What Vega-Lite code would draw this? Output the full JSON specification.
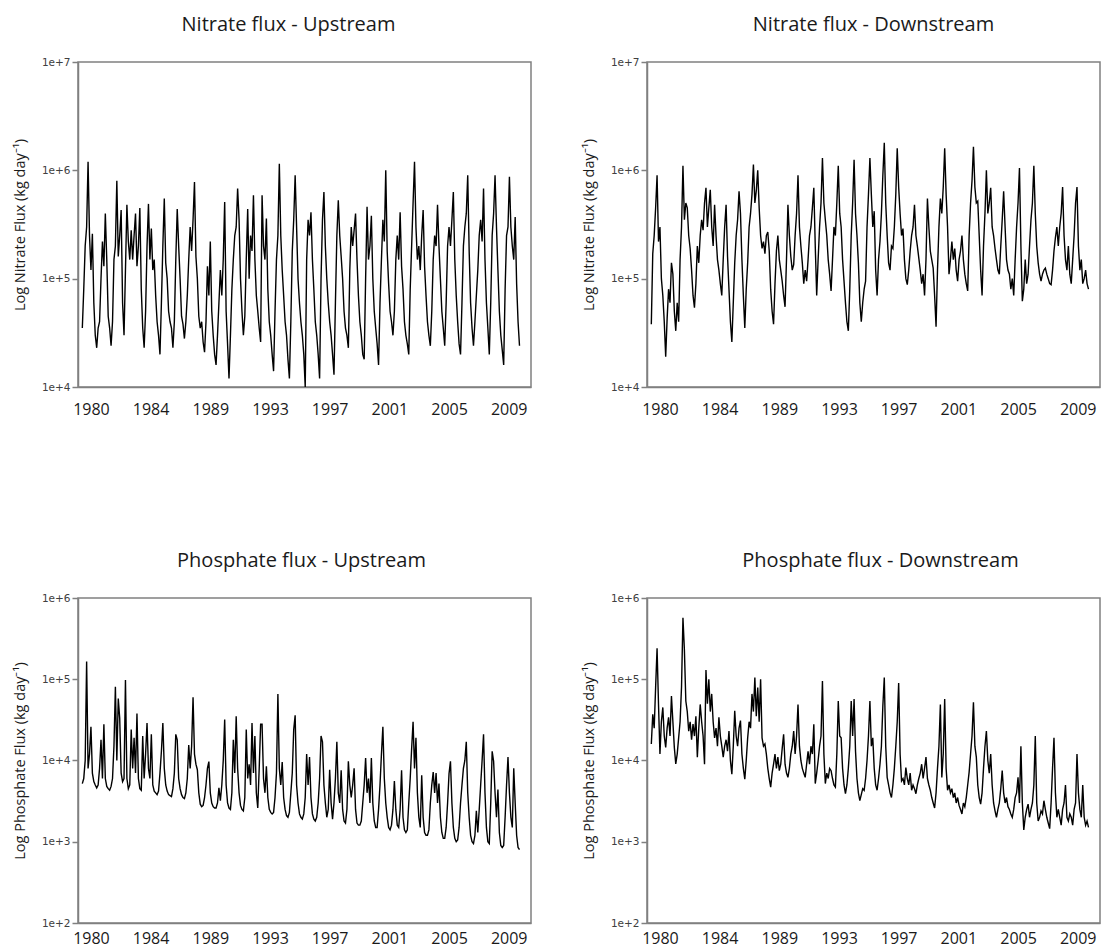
{
"$schema": "https://vega.github.io/schema/vega-lite/v6.json",
"background": "white",
"padding": {"left": 11, "top": 14, "right": 5, "bottom": 0},
"datasets": {"flux": [
{"t":1980.2,"a":3.5e4,"b":3.8e4,"c":5.2e3,"d":1.6e4},
{"t":1980.3,"a":8e4,"b":1.7e5,"c":6e3,"d":3.7e4},
{"t":1980.4,"a":2e5,"b":2.5e5,"c":1e4,"d":2.5e4},
{"t":1980.5,"a":3e5,"b":4.5e5,"c":1.65e5,"d":8e4},
{"t":1980.6,"a":1.2e6,"b":9e5,"c":8e3,"d":2.4e5},
{"t":1980.7,"a":2.5e5,"b":2.2e5,"c":1.2e4,"d":4.9e4},
{"t":1980.8,"a":1.2e5,"b":3e5,"c":2.6e4,"d":1.2e4},
{"t":1980.9,"a":2.6e5,"b":1e5,"c":7e3,"d":3e4},
{"t":1981.0,"a":6e4,"b":7e4,"c":5.5e3,"d":4.5e4},
{"t":1981.1,"a":3e4,"b":4e4,"c":5e3,"d":2e4},
{"t":1981.2,"a":2.3e4,"b":1.9e4,"c":4.6e3,"d":1.45e4},
{"t":1981.3,"a":3.5e4,"b":4.3e4,"c":5e3,"d":2.5e4},
{"t":1981.4,"a":4e4,"b":8e4,"c":8e3,"d":3.4e4},
{"t":1981.5,"a":1e5,"b":6e4,"c":1.8e4,"d":2e4},
{"t":1981.6,"a":2.2e5,"b":1.4e5,"c":6e3,"d":6.2e4},
{"t":1981.7,"a":1.3e5,"b":1.1e5,"c":2.8e4,"d":3e4},
{"t":1981.8,"a":4e5,"b":5e4,"c":6e3,"d":1.45e4},
{"t":1981.9,"a":1.5e5,"b":3.3e4,"c":4.8e3,"d":9.1e3},
{"t":1982.0,"a":4.5e4,"b":6e4,"c":4.5e3,"d":1.2e4},
{"t":1982.1,"a":3.5e4,"b":4e4,"c":4.3e3,"d":1.9e4},
{"t":1982.2,"a":2.4e4,"b":1.5e5,"c":4.8e3,"d":3e4},
{"t":1982.3,"a":4e4,"b":3e5,"c":6e3,"d":8e4},
{"t":1982.4,"a":1.5e5,"b":1.1e6,"c":1.5e4,"d":5.7e5},
{"t":1982.5,"a":2e5,"b":3.5e5,"c":8.1e4,"d":2.3e5},
{"t":1982.6,"a":8e5,"b":5e5,"c":1e4,"d":5.4e4},
{"t":1982.7,"a":1.6e5,"b":4.5e5,"c":5.8e4,"d":4e4},
{"t":1982.8,"a":2.5e5,"b":2.5e5,"c":3.3e4,"d":2.3e4},
{"t":1982.9,"a":4.3e5,"b":1.9e5,"c":7e3,"d":3e4},
{"t":1983.0,"a":6e4,"b":1.2e5,"c":5.5e3,"d":1.8e4},
{"t":1983.1,"a":3e4,"b":7e4,"c":6e3,"d":2.8e4},
{"t":1983.2,"a":1.2e5,"b":5.4e4,"c":9.8e4,"d":2e4},
{"t":1983.3,"a":4.8e5,"b":9e4,"c":6e3,"d":3.5e4},
{"t":1983.4,"a":2.2e5,"b":2e5,"c":4.5e3,"d":1.1e4},
{"t":1983.5,"a":1.5e5,"b":1.4e5,"c":5e3,"d":2.5e4},
{"t":1983.6,"a":2.8e5,"b":2.5e5,"c":2.4e4,"d":4.9e4},
{"t":1983.7,"a":1.5e5,"b":3.5e5,"c":8e3,"d":3e4},
{"t":1983.8,"a":2.5e5,"b":2.8e5,"c":1.9e4,"d":2e4},
{"t":1983.9,"a":4e5,"b":5e5,"c":7e3,"d":9e3},
{"t":1984.0,"a":1.3e5,"b":6.9e5,"c":3.8e4,"d":1.3e5},
{"t":1984.1,"a":2e5,"b":3e5,"c":6e3,"d":5e4},
{"t":1984.2,"a":4.5e5,"b":4.5e5,"c":4.5e3,"d":1e5},
{"t":1984.3,"a":8e4,"b":6.6e5,"c":4.3e3,"d":4e4},
{"t":1984.4,"a":3.5e4,"b":3e5,"c":2e4,"d":6.6e4},
{"t":1984.5,"a":2.3e4,"b":2e5,"c":6e3,"d":3e4},
{"t":1984.6,"a":5e4,"b":4.8e5,"c":1.2e4,"d":1.9e4},
{"t":1984.7,"a":2e5,"b":2.5e5,"c":2.9e4,"d":2.5e4},
{"t":1984.8,"a":4.9e5,"b":1.5e5,"c":8e3,"d":1.5e4},
{"t":1984.9,"a":1.5e5,"b":1.2e5,"c":6e3,"d":3.4e4},
{"t":1985.0,"a":2.9e5,"b":9e4,"c":2.1e4,"d":2e4},
{"t":1985.1,"a":1.2e5,"b":7e4,"c":5e3,"d":1.5e4},
{"t":1985.2,"a":1.5e5,"b":1.5e5,"c":4.2e3,"d":1.1e4},
{"t":1985.3,"a":7e4,"b":3e5,"c":4e3,"d":1.5e4},
{"t":1985.4,"a":4e4,"b":4.8e5,"c":3.8e3,"d":1.8e4},
{"t":1985.5,"a":3e4,"b":1.6e5,"c":4.2e3,"d":1.3e4},
{"t":1985.6,"a":2e4,"b":8e4,"c":7e3,"d":2.3e4},
{"t":1985.7,"a":6e4,"b":4e4,"c":1.3e4,"d":1e4},
{"t":1985.8,"a":2e5,"b":2.6e4,"c":2.9e4,"d":6.8e3},
{"t":1985.9,"a":5.5e5,"b":6e4,"c":8e3,"d":1.5e4},
{"t":1986.0,"a":1.4e5,"b":1.4e5,"c":5e3,"d":4.1e4},
{"t":1986.1,"a":1e5,"b":2.5e5,"c":4.2e3,"d":2e4},
{"t":1986.2,"a":5e4,"b":3.5e5,"c":3.8e3,"d":1.5e4},
{"t":1986.3,"a":4e4,"b":6.4e5,"c":3.7e3,"d":2.5e4},
{"t":1986.4,"a":3.5e4,"b":4e5,"c":3.6e3,"d":3.1e4},
{"t":1986.5,"a":2.3e4,"b":1.5e5,"c":4.5e3,"d":1.2e4},
{"t":1986.6,"a":4e4,"b":7e4,"c":7e3,"d":8e3},
{"t":1986.7,"a":1.5e5,"b":3.5e4,"c":2.1e4,"d":5.9e3},
{"t":1986.8,"a":4.4e5,"b":8e4,"c":1.8e4,"d":1e4},
{"t":1986.9,"a":2e5,"b":1.4e5,"c":6e3,"d":1.9e4},
{"t":1987.0,"a":1e5,"b":3e5,"c":4.5e3,"d":3e4},
{"t":1987.1,"a":4.5e4,"b":4e5,"c":3.8e3,"d":2.5e4},
{"t":1987.2,"a":3.8e4,"b":6e5,"c":3.5e3,"d":6.6e4},
{"t":1987.3,"a":2.8e4,"b":1.13e6,"c":3.4e3,"d":4e4},
{"t":1987.4,"a":4e4,"b":5e5,"c":4e3,"d":1.05e5},
{"t":1987.5,"a":7e4,"b":6.5e5,"c":6e3,"d":3.5e4},
{"t":1987.6,"a":1.5e5,"b":1e6,"c":1.55e4,"d":7.9e4},
{"t":1987.7,"a":3e5,"b":4.5e5,"c":8e3,"d":3e4},
{"t":1987.8,"a":1.8e5,"b":2.5e5,"c":1.5e4,"d":1e5},
{"t":1987.9,"a":3.5e5,"b":1.9e5,"c":6e4,"d":1.9e4},
{"t":1988.0,"a":7.8e5,"b":2.2e5,"c":1.2e4,"d":1.5e4},
{"t":1988.1,"a":1.6e5,"b":1.7e5,"c":9e3,"d":1.6e4},
{"t":1988.2,"a":1e5,"b":2.5e5,"c":7.7e3,"d":1.2e4},
{"t":1988.3,"a":4.5e4,"b":2.7e5,"c":4e3,"d":8e3},
{"t":1988.4,"a":3.5e4,"b":1.8e5,"c":2.9e3,"d":6e3},
{"t":1988.5,"a":4e4,"b":8e4,"c":2.7e3,"d":4.7e3},
{"t":1988.6,"a":2.6e4,"b":5e4,"c":2.8e3,"d":7e3},
{"t":1988.7,"a":2.1e4,"b":3.8e4,"c":3.5e3,"d":9e3},
{"t":1988.8,"a":4e4,"b":9e4,"c":5e3,"d":1.2e4},
{"t":1988.9,"a":1.3e5,"b":1.8e5,"c":8e3,"d":8e3},
{"t":1989.0,"a":7e4,"b":2.5e5,"c":9.7e3,"d":1.1e4},
{"t":1989.1,"a":2.2e5,"b":1.5e5,"c":4e3,"d":7.5e3},
{"t":1989.2,"a":5e4,"b":1.2e5,"c":3e3,"d":9e3},
{"t":1989.3,"a":3e4,"b":9.5e4,"c":2.7e3,"d":1.4e4},
{"t":1989.4,"a":2e4,"b":7e4,"c":2.6e3,"d":2.1e4},
{"t":1989.5,"a":1.6e4,"b":5.5e4,"c":2.6e3,"d":9e3},
{"t":1989.6,"a":3e4,"b":1.5e5,"c":3e3,"d":7e3},
{"t":1989.7,"a":6e4,"b":4.8e5,"c":4.6e3,"d":6.2e3},
{"t":1989.8,"a":1.2e5,"b":2.5e5,"c":3.2e3,"d":8e3},
{"t":1989.9,"a":7e4,"b":1.6e5,"c":5e3,"d":1.2e4},
{"t":1990.0,"a":1.5e5,"b":1.2e5,"c":1e4,"d":1.5e4},
{"t":1990.1,"a":5.1e5,"b":1.35e5,"c":3.2e4,"d":2.3e4},
{"t":1990.2,"a":5e4,"b":2.5e5,"c":5e3,"d":1.2e4},
{"t":1990.3,"a":2.5e4,"b":4e5,"c":3e3,"d":2e4},
{"t":1990.4,"a":1.2e4,"b":9e5,"c":2.6e3,"d":4.9e4},
{"t":1990.5,"a":3e4,"b":3e5,"c":2.5e3,"d":1.5e4},
{"t":1990.6,"a":8e4,"b":2e5,"c":4e3,"d":1e4},
{"t":1990.7,"a":1.5e5,"b":1.4e5,"c":1.8e4,"d":8e3},
{"t":1990.8,"a":2.5e5,"b":9e4,"c":7e3,"d":7e3},
{"t":1990.9,"a":3e5,"b":1.2e5,"c":3.5e4,"d":6.2e3},
{"t":1991.0,"a":6.8e5,"b":9.5e4,"c":8e3,"d":9e3},
{"t":1991.1,"a":3.5e5,"b":1.5e5,"c":4e3,"d":1.3e4},
{"t":1991.2,"a":1e5,"b":2.5e5,"c":2.8e3,"d":9e3},
{"t":1991.3,"a":5e4,"b":3e5,"c":2.5e3,"d":1.5e4},
{"t":1991.4,"a":3e4,"b":4.5e5,"c":2.4e3,"d":1.2e4},
{"t":1991.5,"a":4.5e4,"b":6.9e5,"c":3.5e3,"d":2.8e4},
{"t":1991.6,"a":1.5e5,"b":2e5,"c":2.4e4,"d":5.2e3},
{"t":1991.7,"a":4.4e5,"b":7e4,"c":6e3,"d":7e3},
{"t":1991.8,"a":1e5,"b":1.5e5,"c":9e3,"d":1e4},
{"t":1991.9,"a":2.5e5,"b":3e5,"c":5e3,"d":1.5e4},
{"t":1992.0,"a":1.8e5,"b":5e5,"c":2.9e4,"d":2e4},
{"t":1992.1,"a":5.9e5,"b":1.3e6,"c":7e3,"d":9.5e4},
{"t":1992.2,"a":1.5e5,"b":5e5,"c":2e4,"d":1.2e4},
{"t":1992.3,"a":7e4,"b":3.5e5,"c":4e3,"d":5.2e3},
{"t":1992.4,"a":5e4,"b":2.5e5,"c":2.6e3,"d":7e3},
{"t":1992.5,"a":3.5e4,"b":1.5e5,"c":8e3,"d":6e3},
{"t":1992.6,"a":2.6e4,"b":1.1e5,"c":2.8e4,"d":8e3},
{"t":1992.7,"a":5.9e5,"b":7.7e4,"c":2.8e4,"d":7.5e3},
{"t":1992.8,"a":2e5,"b":1.5e5,"c":6e3,"d":6e3},
{"t":1992.9,"a":1.5e5,"b":3e5,"c":4e3,"d":5e3},
{"t":1993.0,"a":3.6e5,"b":2.5e5,"c":8.5e3,"d":4.7e3},
{"t":1993.1,"a":8e4,"b":5e5,"c":3.5e3,"d":1.2e4},
{"t":1993.2,"a":4e4,"b":1.1e6,"c":2.5e3,"d":5.4e4},
{"t":1993.3,"a":3e4,"b":4e5,"c":2.3e3,"d":2e4},
{"t":1993.4,"a":2e4,"b":3e5,"c":2.2e3,"d":1.9e4},
{"t":1993.5,"a":1.4e4,"b":1.5e5,"c":2.3e3,"d":8e3},
{"t":1993.6,"a":5e4,"b":9.5e4,"c":3.5e3,"d":5e3},
{"t":1993.7,"a":1.5e5,"b":6e4,"c":7e3,"d":3.9e3},
{"t":1993.8,"a":2.5e5,"b":4e4,"c":6.6e4,"d":5e3},
{"t":1993.9,"a":1.15e6,"b":3.3e4,"c":8e3,"d":8e3},
{"t":1994.0,"a":2.5e5,"b":8e4,"c":5e3,"d":1.5e4},
{"t":1994.1,"a":1.2e5,"b":2.5e5,"c":9.6e3,"d":5.4e4},
{"t":1994.2,"a":7e4,"b":5e5,"c":3.5e3,"d":2e4},
{"t":1994.3,"a":4e4,"b":1.25e6,"c":2.5e3,"d":5.7e4},
{"t":1994.4,"a":3e4,"b":4e5,"c":2.1e3,"d":1.3e4},
{"t":1994.5,"a":1.8e4,"b":2.5e5,"c":2e3,"d":6e3},
{"t":1994.6,"a":1.2e4,"b":1.4e5,"c":2.3e3,"d":4e3},
{"t":1994.7,"a":4e4,"b":6e4,"c":4e3,"d":3.2e3},
{"t":1994.8,"a":1.8e5,"b":4e4,"c":7e3,"d":3.8e3},
{"t":1994.9,"a":3.5e5,"b":6e4,"c":2.4e4,"d":4.5e3},
{"t":1995.0,"a":9e5,"b":8e4,"c":3.6e4,"d":4.3e3},
{"t":1995.1,"a":3e5,"b":9.5e4,"c":5e3,"d":6e3},
{"t":1995.2,"a":1e5,"b":3e5,"c":3e3,"d":1e4},
{"t":1995.3,"a":6e4,"b":6e5,"c":2.2e3,"d":2e4},
{"t":1995.4,"a":4e4,"b":1.3e6,"c":2e3,"d":5.4e4},
{"t":1995.5,"a":3e4,"b":6e5,"c":1.9e3,"d":1.5e4},
{"t":1995.6,"a":2e4,"b":3e5,"c":2.2e3,"d":1.9e4},
{"t":1995.7,"a":1e4,"b":4.2e5,"c":3.5e3,"d":8e3},
{"t":1995.8,"a":1.5e5,"b":1.2e5,"c":1.2e4,"d":5e3},
{"t":1995.9,"a":3.5e5,"b":7e4,"c":5e3,"d":4.3e3},
{"t":1996.0,"a":2.5e5,"b":1.5e5,"c":1.1e4,"d":6e3},
{"t":1996.1,"a":4.1e5,"b":2.2e5,"c":3.5e3,"d":9e3},
{"t":1996.2,"a":1.5e5,"b":4e5,"c":2.2e3,"d":1.5e4},
{"t":1996.3,"a":8e4,"b":9e5,"c":1.9e3,"d":4.7e4},
{"t":1996.4,"a":4e4,"b":1.8e6,"c":1.8e3,"d":1.05e5},
{"t":1996.5,"a":3e4,"b":5e5,"c":2e3,"d":1.5e4},
{"t":1996.6,"a":2e4,"b":2.5e5,"c":3e3,"d":6.2e3},
{"t":1996.7,"a":1.2e4,"b":1.4e5,"c":6e3,"d":5e3},
{"t":1996.8,"a":1e5,"b":1.2e5,"c":2e4,"d":4e3},
{"t":1996.9,"a":3.5e5,"b":2e5,"c":1.7e4,"d":3.5e3},
{"t":1997.0,"a":6.3e5,"b":1.9e5,"c":5e3,"d":5e3},
{"t":1997.1,"a":2e5,"b":3e5,"c":3e3,"d":8e3},
{"t":1997.2,"a":1e5,"b":6e5,"c":2e3,"d":1.5e4},
{"t":1997.3,"a":6e4,"b":1.6e6,"c":2.5e3,"d":3e4},
{"t":1997.4,"a":4e4,"b":7e5,"c":7.7e3,"d":9e4},
{"t":1997.5,"a":3e4,"b":4e5,"c":3e3,"d":1.2e4},
{"t":1997.6,"a":2e4,"b":2.5e5,"c":1.9e3,"d":5.6e3},
{"t":1997.7,"a":1.3e4,"b":2.9e5,"c":3e3,"d":6e3},
{"t":1997.8,"a":6e4,"b":1.5e5,"c":6e3,"d":5e3},
{"t":1997.9,"a":2.5e5,"b":1e5,"c":1.7e4,"d":8.2e3},
{"t":1998.0,"a":5.3e5,"b":8.8e4,"c":4e3,"d":6e3},
{"t":1998.1,"a":2.5e5,"b":1.2e5,"c":3e3,"d":5e3},
{"t":1998.2,"a":1.6e5,"b":1.8e5,"c":7.6e3,"d":7e3},
{"t":1998.3,"a":1e5,"b":2.5e5,"c":2.5e3,"d":4.3e3},
{"t":1998.4,"a":5e4,"b":3e5,"c":1.8e3,"d":5e3},
{"t":1998.5,"a":3.5e4,"b":4.8e5,"c":1.7e3,"d":4.5e3},
{"t":1998.6,"a":3e4,"b":2.5e5,"c":2.5e3,"d":3.9e3},
{"t":1998.7,"a":2.3e4,"b":2e5,"c":9.8e3,"d":5e3},
{"t":1998.8,"a":1.2e5,"b":1.55e5,"c":5e3,"d":6e3},
{"t":1998.9,"a":3e5,"b":1.2e5,"c":3.5e3,"d":7e3},
{"t":1999.0,"a":2e5,"b":9e4,"c":5e3,"d":9e3},
{"t":1999.1,"a":2.8e5,"b":1.1e5,"c":8e3,"d":6e3},
{"t":1999.2,"a":4e5,"b":7e4,"c":2.5e3,"d":8e3},
{"t":1999.3,"a":1.5e5,"b":1.5e5,"c":1.7e3,"d":1.1e4},
{"t":1999.4,"a":7e4,"b":5.5e5,"c":1.6e3,"d":6e3},
{"t":1999.5,"a":4e4,"b":3e5,"c":1.6e3,"d":5e3},
{"t":1999.6,"a":3e4,"b":1.8e5,"c":1.8e3,"d":4.3e3},
{"t":1999.7,"a":2e4,"b":1.5e5,"c":3e3,"d":3.5e3},
{"t":1999.8,"a":1.8e4,"b":1.25e5,"c":5e3,"d":3e3},
{"t":1999.9,"a":1e5,"b":7e4,"c":1.07e4,"d":2.6e3},
{"t":2000.0,"a":4.6e5,"b":3.6e4,"c":4e3,"d":4e3},
{"t":2000.1,"a":1.5e5,"b":1.2e5,"c":6e3,"d":8e3},
{"t":2000.2,"a":2e5,"b":3e5,"c":3e3,"d":1.5e4},
{"t":2000.3,"a":3.8e5,"b":5.5e5,"c":1.07e4,"d":4.9e4},
{"t":2000.4,"a":1e5,"b":4e5,"c":3e3,"d":6.2e3},
{"t":2000.5,"a":5e4,"b":7e5,"c":1.8e3,"d":1.2e4},
{"t":2000.6,"a":3.5e4,"b":1.6e6,"c":1.5e3,"d":5.7e4},
{"t":2000.7,"a":2.5e4,"b":6e5,"c":1.5e3,"d":8e3},
{"t":2000.8,"a":1.6e4,"b":3e5,"c":2.5e3,"d":4.3e3},
{"t":2000.9,"a":6e4,"b":1.1e5,"c":5e3,"d":5e3},
{"t":2001.0,"a":1.5e5,"b":1.5e5,"c":1.2e4,"d":4e3},
{"t":2001.1,"a":3.5e5,"b":2.2e5,"c":2.6e4,"d":4.5e3},
{"t":2001.2,"a":2.2e5,"b":1.5e5,"c":6e3,"d":3.5e3},
{"t":2001.3,"a":1e6,"b":1.9e5,"c":3e3,"d":4e3},
{"t":2001.4,"a":1.8e5,"b":1.2e5,"c":2e3,"d":3e3},
{"t":2001.5,"a":9e4,"b":9.5e4,"c":1.5e3,"d":3.5e3},
{"t":2001.6,"a":5e4,"b":1.5e5,"c":1.4e3,"d":2.8e3},
{"t":2001.7,"a":4e4,"b":1.8e5,"c":1.6e3,"d":2.5e3},
{"t":2001.8,"a":3e4,"b":2.5e5,"c":2.5e3,"d":2.2e3},
{"t":2001.9,"a":5e4,"b":1.5e5,"c":5.6e3,"d":3e3},
{"t":2002.0,"a":1.5e5,"b":1.1e5,"c":2.5e3,"d":2.7e3},
{"t":2002.1,"a":2.5e5,"b":9e4,"c":1.6e3,"d":3.5e3},
{"t":2002.2,"a":1.5e5,"b":7.7e4,"c":1.5e3,"d":5e3},
{"t":2002.3,"a":4.1e5,"b":2.5e5,"c":2.5e3,"d":7.2e3},
{"t":2002.4,"a":1.3e5,"b":5e5,"c":7.6e3,"d":1.2e4},
{"t":2002.5,"a":8e4,"b":8e5,"c":2e3,"d":2e4},
{"t":2002.6,"a":4e4,"b":1.65e6,"c":1.4e3,"d":5.2e4},
{"t":2002.7,"a":3e4,"b":7e5,"c":1.3e3,"d":1.5e4},
{"t":2002.8,"a":2.5e4,"b":5e5,"c":1.4e3,"d":1.1e4},
{"t":2002.9,"a":2e4,"b":5.2e5,"c":3e3,"d":5e3},
{"t":2003.0,"a":8e4,"b":2.5e5,"c":6e3,"d":3.5e3},
{"t":2003.1,"a":2e5,"b":1.2e5,"c":1.4e4,"d":2.9e3},
{"t":2003.2,"a":5e5,"b":7e4,"c":3e4,"d":4e3},
{"t":2003.3,"a":1.2e6,"b":2e5,"c":8e3,"d":8e3},
{"t":2003.4,"a":3e5,"b":4e5,"c":1.9e4,"d":1.5e4},
{"t":2003.5,"a":1.5e5,"b":1e6,"c":4e3,"d":2.3e4},
{"t":2003.6,"a":2e5,"b":4e5,"c":2e3,"d":1e4},
{"t":2003.7,"a":1.2e5,"b":5e5,"c":1.5e3,"d":7e3},
{"t":2003.8,"a":2.5e5,"b":6.9e5,"c":6.6e3,"d":1.2e4},
{"t":2003.9,"a":4.3e5,"b":3e5,"c":2e3,"d":5e3},
{"t":2004.0,"a":1.3e5,"b":2.5e5,"c":1.3e3,"d":3e3},
{"t":2004.1,"a":7e4,"b":1.9e5,"c":1.2e3,"d":2.4e3},
{"t":2004.2,"a":4e4,"b":1.5e5,"c":1.2e3,"d":2e3},
{"t":2004.3,"a":3e4,"b":1.2e5,"c":1.4e3,"d":2.5e3},
{"t":2004.4,"a":2.4e4,"b":1.1e5,"c":3e3,"d":3e3},
{"t":2004.5,"a":5e4,"b":2e5,"c":5e3,"d":4.5e3},
{"t":2004.6,"a":1.5e5,"b":3.5e5,"c":7.2e3,"d":7.5e3},
{"t":2004.7,"a":2.5e5,"b":6.4e5,"c":4e3,"d":4e3},
{"t":2004.8,"a":2e5,"b":3e5,"c":7e3,"d":3e3},
{"t":2004.9,"a":4.8e5,"b":1.5e5,"c":3e3,"d":3.5e3},
{"t":2005.0,"a":2e5,"b":1.2e5,"c":5.2e3,"d":2.7e3},
{"t":2005.1,"a":1e5,"b":1.1e5,"c":2e3,"d":2.5e3},
{"t":2005.2,"a":5e4,"b":8e4,"c":1.3e3,"d":2.2e3},
{"t":2005.3,"a":3.5e4,"b":1e5,"c":1.1e3,"d":2e3},
{"t":2005.4,"a":2.4e4,"b":7e4,"c":1.1e3,"d":2.5e3},
{"t":2005.5,"a":6e4,"b":1.5e5,"c":1.5e3,"d":3.5e3},
{"t":2005.6,"a":2e5,"b":3e5,"c":3e3,"d":4e3},
{"t":2005.7,"a":3e5,"b":5e5,"c":6.9e3,"d":6.2e3},
{"t":2005.8,"a":2e5,"b":1.05e6,"c":9.8e3,"d":3e3},
{"t":2005.9,"a":3.5e5,"b":2e5,"c":3e3,"d":1.5e4},
{"t":2006.0,"a":6.3e5,"b":6.2e4,"c":1.5e3,"d":3e3},
{"t":2006.1,"a":1.5e5,"b":8e4,"c":1.1e3,"d":1.4e3},
{"t":2006.2,"a":7e4,"b":1.5e5,"c":1e3,"d":2e3},
{"t":2006.3,"a":4e4,"b":9e4,"c":1.05e3,"d":2.5e3},
{"t":2006.4,"a":2.5e4,"b":1.1e5,"c":1.5e3,"d":2.9e3},
{"t":2006.5,"a":2e4,"b":2e5,"c":3e3,"d":2e3},
{"t":2006.6,"a":6e4,"b":3.5e5,"c":5e3,"d":2.5e3},
{"t":2006.7,"a":2e5,"b":5e5,"c":8e3,"d":3e3},
{"t":2006.8,"a":3e5,"b":1.1e6,"c":1e4,"d":5e3},
{"t":2006.9,"a":4e5,"b":4e5,"c":1.7e4,"d":2e4},
{"t":2007.0,"a":9e5,"b":2e5,"c":4e3,"d":3e3},
{"t":2007.1,"a":1.8e5,"b":1.4e5,"c":2e3,"d":1.8e3},
{"t":2007.2,"a":6e4,"b":1.1e5,"c":1.2e3,"d":2e3},
{"t":2007.3,"a":3.5e4,"b":9.5e4,"c":1e3,"d":2.4e3},
{"t":2007.4,"a":2.4e4,"b":1.1e5,"c":9.5e2,"d":2.2e3},
{"t":2007.5,"a":4e4,"b":1.2e5,"c":1.2e3,"d":3.2e3},
{"t":2007.6,"a":7e4,"b":1.25e5,"c":2.4e3,"d":2.5e3},
{"t":2007.7,"a":1.2e5,"b":1.1e5,"c":1.3e3,"d":2e3},
{"t":2007.8,"a":2.5e5,"b":1e5,"c":2.5e3,"d":1.7e3},
{"t":2007.9,"a":3.5e5,"b":9e4,"c":5e3,"d":1.45e3},
{"t":2008.0,"a":2.2e5,"b":8.8e4,"c":1e4,"d":3e3},
{"t":2008.1,"a":6.8e5,"b":1.2e5,"c":2.1e4,"d":8e3},
{"t":2008.2,"a":1.5e5,"b":1.8e5,"c":4e3,"d":1.9e4},
{"t":2008.3,"a":6e4,"b":2.4e5,"c":1.5e3,"d":4e3},
{"t":2008.4,"a":3.5e4,"b":3e5,"c":1e3,"d":2e3},
{"t":2008.5,"a":2e4,"b":2e5,"c":9.5e2,"d":2.5e3},
{"t":2008.6,"a":6e4,"b":3e5,"c":3e3,"d":2e3},
{"t":2008.7,"a":2.5e5,"b":4e5,"c":1.3e4,"d":1.6e3},
{"t":2008.8,"a":4e5,"b":7e5,"c":9.8e3,"d":2.5e3},
{"t":2008.9,"a":9e5,"b":2.5e5,"c":4e3,"d":3e3},
{"t":2009.0,"a":3e5,"b":1.5e5,"c":2e3,"d":5e3},
{"t":2009.1,"a":1.2e5,"b":1.2e5,"c":4.4e3,"d":2e3},
{"t":2009.2,"a":5e4,"b":2e5,"c":1.3e3,"d":1.8e3},
{"t":2009.3,"a":3e4,"b":1.1e5,"c":9e2,"d":2.2e3},
{"t":2009.4,"a":2.2e4,"b":9e4,"c":8.5e2,"d":2e3},
{"t":2009.5,"a":1.6e4,"b":1.5e5,"c":9e2,"d":1.6e3},
{"t":2009.6,"a":8e4,"b":2.5e5,"c":2e3,"d":2.5e3},
{"t":2009.7,"a":2.5e5,"b":5e5,"c":5e3,"d":3e3},
{"t":2009.8,"a":3e5,"b":7e5,"c":1.1e4,"d":1.2e4},
{"t":2009.9,"a":8.7e5,"b":2e5,"c":4e3,"d":4e3},
{"t":2010.0,"a":3e5,"b":1.2e5,"c":2e3,"d":2.5e3},
{"t":2010.1,"a":2e5,"b":1.5e5,"c":1.5e3,"d":2e3},
{"t":2010.2,"a":1.5e5,"b":9e4,"c":8e3,"d":5e3},
{"t":2010.3,"a":3.7e5,"b":1e5,"c":3e3,"d":2e3},
{"t":2010.4,"a":9e4,"b":1.2e5,"c":1.2e3,"d":1.6e3},
{"t":2010.5,"a":4e4,"b":9e4,"c":8.5e2,"d":1.8e3},
{"t":2010.6,"a":2.4e4,"b":8e4,"c":8e2,"d":1.5e3}
]},
"vconcat": [
{"hconcat": [
{"title": {"text": "Nitrate flux - Upstream", "dx": -16},
 "width": 453, "height": 325, "data": {"name": "flux"},
 "mark": {"type": "line", "color": "black", "strokeWidth": 1.4, "clip": true},
 "encoding": {
  "x": {"field": "t", "type": "quantitative", "scale": {"domain": [1979.9, 2011.4], "nice": false, "zero": false}, "axis": {"values": [1980.8, 1984.95, 1989.1, 1993.25, 1997.4, 2001.55, 2005.7, 2009.85], "labelExpr": "'' + floor(datum.value)", "title": null, "labelPadding": 14}},
  "y": {"field": "a", "type": "quantitative", "scale": {"type": "log", "domain": [1e4, 1e7], "nice": false}, "axis": {"values": [1e4, 1e5, 1e6, 1e7], "labelExpr": "format(datum.value, '.0e')", "title": "Log Nitrate Flux (kg day⁻¹)"}}
 }},
{"title": {"text": "Nitrate flux - Downstream", "dx": 0},
 "width": 453, "height": 325, "data": {"name": "flux"},
 "mark": {"type": "line", "color": "black", "strokeWidth": 1.4, "clip": true},
 "encoding": {
  "x": {"field": "t", "type": "quantitative", "scale": {"domain": [1979.9, 2011.4], "nice": false, "zero": false}, "axis": {"values": [1980.8, 1984.95, 1989.1, 1993.25, 1997.4, 2001.55, 2005.7, 2009.85], "labelExpr": "'' + floor(datum.value)", "title": null, "labelPadding": 14}},
  "y": {"field": "b", "type": "quantitative", "scale": {"type": "log", "domain": [1e4, 1e7], "nice": false}, "axis": {"values": [1e4, 1e5, 1e6, 1e7], "labelExpr": "format(datum.value, '.0e')", "title": "Log Nitrate Flux (kg day⁻¹)"}}
 }}
], "spacing": 48},
{"hconcat": [
{"title": {"text": "Phosphate flux - Upstream", "dx": -3},
 "width": 453, "height": 325, "data": {"name": "flux"},
 "mark": {"type": "line", "color": "black", "strokeWidth": 1.4, "clip": true},
 "encoding": {
  "x": {"field": "t", "type": "quantitative", "scale": {"domain": [1979.9, 2011.4], "nice": false, "zero": false}, "axis": {"values": [1980.8, 1984.95, 1989.1, 1993.25, 1997.4, 2001.55, 2005.7, 2009.85], "labelExpr": "'' + floor(datum.value)", "title": null, "labelPadding": 7}},
  "y": {"field": "c", "type": "quantitative", "scale": {"type": "log", "domain": [1e2, 1e6], "nice": false}, "axis": {"values": [1e2, 1e3, 1e4, 1e5, 1e6], "labelExpr": "format(datum.value, '.0e')", "title": "Log Phosphate Flux (kg day⁻¹)"}}
 }},
{"title": {"text": "Phosphate flux - Downstream", "dx": 7},
 "width": 453, "height": 325, "data": {"name": "flux"},
 "mark": {"type": "line", "color": "black", "strokeWidth": 1.4, "clip": true},
 "encoding": {
  "x": {"field": "t", "type": "quantitative", "scale": {"domain": [1979.9, 2011.4], "nice": false, "zero": false}, "axis": {"values": [1980.8, 1984.95, 1989.1, 1993.25, 1997.4, 2001.55, 2005.7, 2009.85], "labelExpr": "'' + floor(datum.value)", "title": null, "labelPadding": 7}},
  "y": {"field": "d", "type": "quantitative", "scale": {"type": "log", "domain": [1e2, 1e6], "nice": false}, "axis": {"values": [1e2, 1e3, 1e4, 1e5, 1e6], "labelExpr": "format(datum.value, '.0e')", "title": "Log Phosphate Flux (kg day⁻¹)"}}
 }}
], "spacing": 48}
],
"spacing": 132,
"config": {
 "view": {"stroke": "#808080", "strokeWidth": 1.5},
 "title": {"font": "Open Sans", "fontSize": 20, "fontWeight": "normal", "color": "#1a1a1a", "offset": 22, "anchor": "middle", "frame": "group"},
 "axis": {"domainColor": "#808080", "domainWidth": 1.5, "grid": false, "tickColor": "#808080", "labelOverlap": false, "labelFlush": false},
 "axisX": {"ticks": false, "labelFont": "Open Sans", "labelFontSize": 16, "labelColor": "#1a1a1a"},
 "axisY": {"tickSize": 6, "tickWidth": 1.5, "labelFont": "DejaVu Sans", "labelFontSize": 10.5, "labelColor": "#404040", "labelPadding": 2, "titleFont": "Open Sans", "titleFontSize": 14.5, "titleFontWeight": "normal", "titleColor": "#1a1a1a", "titlePadding": 14}
}
}
